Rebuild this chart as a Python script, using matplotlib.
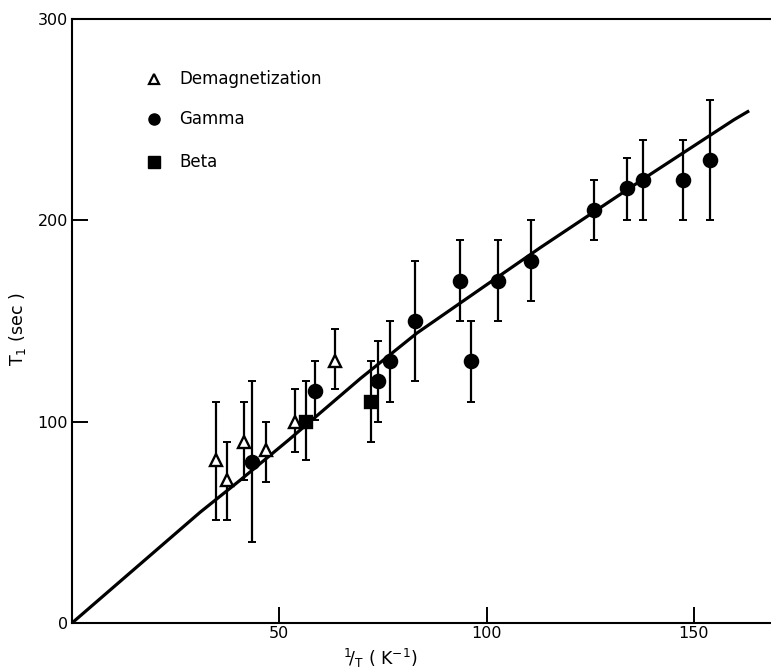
#T1 RELAXATION TIME VS INVERSE TEMPERATURE
#DEMAGNETIZATION, GAMMA AND BETA MEASUREMENTS WITH FITTED CURVE

import matplotlib.pyplot as plt
import numpy as np

#DEMAGNETIZATION DATA (OPEN TRIANGLES)
demag_x = [34.8, 37.4, 41.4, 46.8, 53.7, 63.5]
demag_y = [81, 71, 90, 86, 100, 130]
demag_lo = [51, 51, 71, 70, 85, 116]
demag_hi = [110, 90, 110, 100, 116, 146]

#GAMMA DATA (FILLED CIRCLES)
gamma_x = [43.4, 58.5, 73.7, 76.6, 82.7, 93.6, 96.3, 102.7, 110.7, 125.8, 133.8, 137.8, 147.4, 153.9]
gamma_y = [80, 115, 120, 130, 150, 170, 130, 170, 180, 205, 216, 220, 220, 230]
gamma_lo = [40, 101, 100, 110, 120, 150, 110, 150, 160, 190, 200, 200, 200, 200]
gamma_hi = [120, 130, 140, 150, 180, 190, 150, 190, 200, 220, 231, 240, 240, 260]

#BETA DATA (FILLED SQUARES)
beta_x = [56.5, 72.0]
beta_y = [100, 110]
beta_lo = [81, 90]
beta_hi = [120, 130]

#CURVE
curve_x = [0, 30.9, 40.6, 52.3, 69.6, 83.2, 100, 113, 139.6, 159.7, 163]
curve_y = [0, 55, 71, 91, 121.5, 144, 168, 186.5, 223, 250, 254]

x_ticks = [0, 50, 100, 150]
y_ticks = [0, 100, 200, 300]

fig = plt.figure(figsize=(7.71, 6.72), dpi=100)
ax = fig.add_axes([72/771, 49/672, 1 - 72/771, 604/672])

#FITTED CURVE
ax.plot(curve_x, curve_y, color='black', linewidth=2.3, zorder=2)


def draw_series(x, y, lo, hi, marker, face, size):
    x = np.array(x)
    y = np.array(y)
    err = [y - np.array(lo), np.array(hi) - y]
    ax.errorbar(x, y, yerr=err, fmt='none', ecolor='black', elinewidth=1.6,
                capsize=2.6, capthick=1.4, zorder=3)
    ax.plot(x, y, linestyle='none', marker=marker, markersize=size,
            markerfacecolor=face, markeredgecolor='black', markeredgewidth=1.7, zorder=4)


draw_series(demag_x, demag_y, demag_lo, demag_hi, '^', 'white', 9)
draw_series(gamma_x, gamma_y, gamma_lo, gamma_hi, 'o', 'black', 9.5)
draw_series(beta_x, beta_y, beta_lo, beta_hi, 's', 'black', 9)

#HAND MADE LEGEND
legend_names = ['Demagnetization', 'Gamma', 'Beta']
legend_y = [270, 250.5, 229]
ax.plot(19.8, legend_y[0], marker='^', markersize=7, markerfacecolor='white',
        markeredgecolor='black', markeredgewidth=1.6, linestyle='none')
ax.plot(19.8, legend_y[1], marker='o', markersize=8, color='black', linestyle='none')
ax.plot(19.8, legend_y[2], marker='s', markersize=8, color='black', linestyle='none')
for name, ly in zip(legend_names, legend_y):
    ax.text(25.8, ly, name, fontsize=12, va='center', ha='left')

ax.set_xlim(0, 168.6)
ax.set_ylim(0, 300)
ax.set_xticks(x_ticks)
ax.set_xticklabels([''] + [str(t) for t in x_ticks[1:]])
ax.set_yticks(y_ticks)
ax.set_yticklabels([str(t) for t in y_ticks])
ax.tick_params(direction='in', length=11.5, width=1.4, labelsize=11.5, pad=3)
ax.tick_params(axis='x', pad=2)
ax.spines['right'].set_visible(False)
for side in ['left', 'bottom', 'top']:
    ax.spines[side].set_linewidth(1.5)

#AXIS LABELS
fig.text(380/771, 2/672, r'$^{1}\!/_{\mathrm{T}}$ ( K$^{-1}$)', fontsize=12.5,
         ha='center', va='bottom')
fig.text(18/771, 1 - 329/672, r'T$_1$ (sec )', fontsize=12.5, rotation=90,
         ha='center', va='center')

plt.savefig('out.png', dpi=100)
